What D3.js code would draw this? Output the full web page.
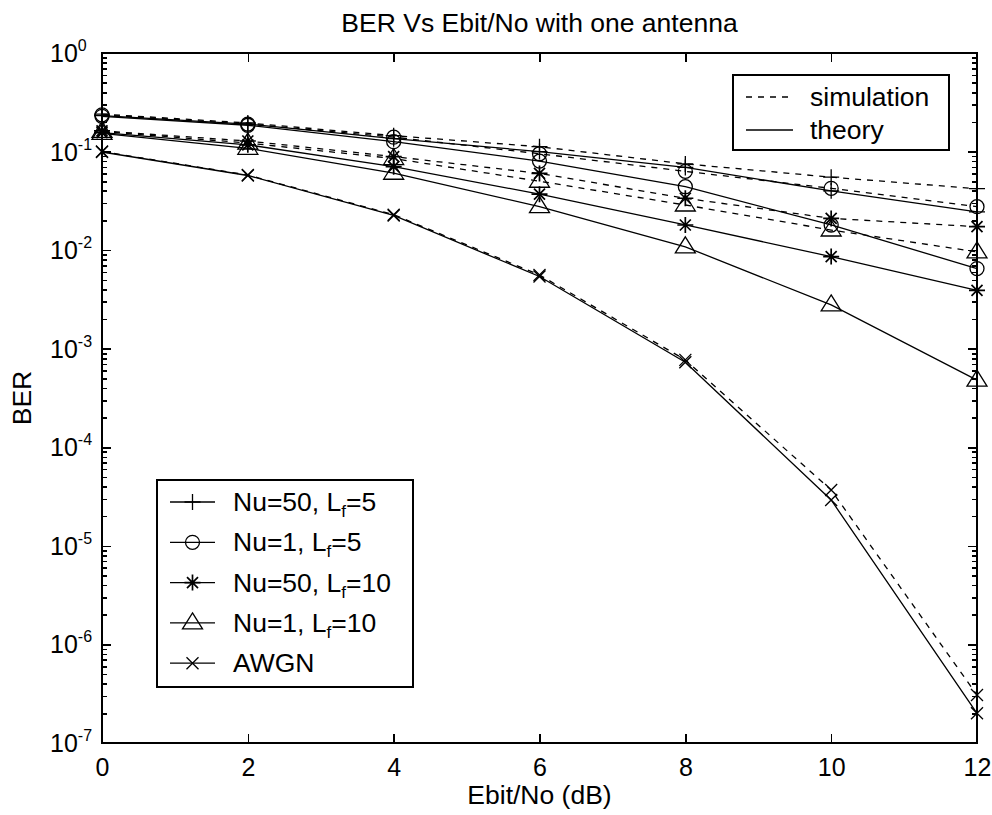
<!DOCTYPE html>
<html>
<head>
<meta charset="utf-8">
<script src="https://cdn.jsdelivr.net/npm/d3@7"></script>
<style>
  html, body { margin: 0; padding: 0; background: #fff; }
  svg { display: block; }
  text { font-family: "Liberation Sans", Arial, sans-serif; fill: #000; }
</style>
</head>
<body>
<svg id="chart" width="992" height="815"></svg>
<script>
// Eb/No points in dB
const ebno = [0, 2, 4, 6, 8, 10, 12];

// BER curves: simulation (dashed) and theory (solid)
const nu50Lf5Sim     = [0.240, 0.195, 0.145, 0.112, 0.075, 0.055, 0.042];
const nu50Lf5Theory  = [0.232, 0.190, 0.135, 0.100, 0.069, 0.040, 0.0245];
const nu1Lf5Sim      = [0.236, 0.190, 0.140, 0.095, 0.063, 0.0424, 0.0276];
const nu1Lf5Theory   = [0.228, 0.185, 0.126, 0.080, 0.044, 0.018, 0.0065];
const nu50Lf10Sim    = [0.162, 0.128, 0.089, 0.060, 0.0336, 0.021, 0.0173];
const nu50Lf10Theory = [0.156, 0.117, 0.0703, 0.037, 0.018, 0.0086, 0.0039];
const nu1Lf10Sim     = [0.160, 0.122, 0.085, 0.050, 0.0287, 0.016, 0.0096];
const nu1Lf10Theory  = [0.153, 0.108, 0.0603, 0.0276, 0.0108, 0.00278, 0.00048];
const awgnSim        = [0.100, 0.0578, 0.0229, 0.0056, 0.00077, 3.68e-5, 3.07e-7];
const awgnTheory     = [0.099, 0.0572, 0.0225, 0.0054, 0.00073, 2.92e-5, 2.0e-7];

// Axis ticks and labels
const xTicks = [0, 2, 4, 6, 8, 10, 12];
const yExponents = [0, -1, -2, -3, -4, -5, -6, -7];
const yTickLabels = ["0", "-1", "-2", "-3", "-4", "-5", "-6", "-7"];

// Legend text (main, subscript, tail)
const seriesNames = [
  ["Nu=50, L", "f", "=5"],
  ["Nu=1, L", "f", "=5"],
  ["Nu=50, L", "f", "=10"],
  ["Nu=1, L", "f", "=10"],
  ["AWGN", "", ""]
];
const styleNames = ["simulation", "theory"];

const titleText = "BER Vs Ebit/No with one antenna";
const xLabelText = "Ebit/No (dB)";
const yLabelText = "BER";

// ---------------------------------------------------------------
const svg = d3.select("#chart");
const FS = 25;      // tick labels
const FL = 26.5;    // title, axis labels, legends
const DASH = "6,6";
const plot = { left: 102, right: 977, top: 53, bottom: 743 };

const x = d3.scaleLinear().domain([0, 12]).range([plot.left, plot.right]);
const y = d3.scaleLog().domain([1e-7, 1]).range([plot.bottom, plot.top]);

const markerPaths = {
  plus: "M-8,0H8M0,-8V8",
  circle: "M7,0A7,7 0 1,1 -7,0A7,7 0 1,1 7,0Z",
  star: "M-8,0H8M0,-8V8M-5.5,-5.5L5.5,5.5M-5.5,5.5L5.5,-5.5",
  triangle: "M0,-10L10,6L-10,6Z",
  cross: "M-6,-6L6,6M-6,6L6,-6"
};

const series = [
  { values: nu50Lf5Sim, dashed: true, marker: "plus" },
  { values: nu50Lf5Theory, dashed: false, marker: "plus" },
  { values: nu1Lf5Sim, dashed: true, marker: "circle" },
  { values: nu1Lf5Theory, dashed: false, marker: "circle" },
  { values: nu50Lf10Sim, dashed: true, marker: "star" },
  { values: nu50Lf10Theory, dashed: false, marker: "star" },
  { values: nu1Lf10Sim, dashed: true, marker: "triangle" },
  { values: nu1Lf10Theory, dashed: false, marker: "triangle" },
  { values: awgnSim, dashed: true, marker: "cross" },
  { values: awgnTheory, dashed: false, marker: "cross" }
];

// Axes: major and minor ticks pointing inward on all four sides
const majorY = yExponents.map(e => Math.pow(10, e));
const minorY = [];
for (let e = -7; e < 0; e++) for (let m = 2; m <= 9; m++) minorY.push(m * Math.pow(10, e));

function styleAxis(g) {
  g.select(".domain").remove();
  g.selectAll(".tick line").attr("stroke", "#000").attr("stroke-width", 1.6).attr("shape-rendering", "crispEdges");
}

const gx = svg.append("g").attr("transform", `translate(0,${plot.bottom})`)
  .call(d3.axisBottom(x).tickValues(xTicks).tickSize(-9).tickSizeOuter(0).tickPadding(15).tickFormat(d3.format("d")));
styleAxis(gx);
gx.selectAll(".tick text").attr("font-size", FS).attr("font-family", "Liberation Sans, Arial, sans-serif").attr("fill", "#000");

svg.append("g").attr("transform", `translate(0,${plot.top})`)
  .call(d3.axisTop(x).tickValues(xTicks).tickSize(-9).tickSizeOuter(0).tickFormat(""))
  .call(styleAxis);

[[d3.axisLeft, plot.left], [d3.axisRight, plot.right]].forEach(([axisFn, px]) => {
  svg.append("g").attr("transform", `translate(${px},0)`)
    .call(axisFn(y).tickValues(majorY).tickSize(-9).tickSizeOuter(0).tickFormat(""))
    .call(styleAxis);
  svg.append("g").attr("transform", `translate(${px},0)`)
    .call(axisFn(y).tickValues(minorY).tickSize(-5).tickSizeOuter(0).tickFormat(""))
    .call(styleAxis);
});

// Y tick labels as 10^n
majorY.forEach((v, i) => {
  const t = svg.append("text")
    .attr("x", 50).attr("y", y(v) + 9)
    .attr("font-size", FS);
  t.append("tspan").text("10");
  t.append("tspan").attr("font-size", 16).attr("dy", -11).text(yTickLabels[i]);
});

// Plot frame
svg.append("rect")
  .attr("x", plot.left).attr("y", plot.top)
  .attr("width", plot.right - plot.left).attr("height", plot.bottom - plot.top)
  .attr("fill", "none").attr("stroke", "#000").attr("stroke-width", 2)
  .attr("shape-rendering", "crispEdges");

// Curves
const line = d3.line().x(d => x(d[0])).y(d => y(d[1]));
series.forEach(s => {
  const pts = ebno.map((e, i) => [e, s.values[i]]);
  svg.append("path")
    .attr("d", line(pts))
    .attr("fill", "none").attr("stroke", "#000").attr("stroke-width", 1.3)
    .attr("stroke-dasharray", s.dashed ? DASH : null);
  svg.append("g").selectAll("path").data(pts).join("path")
    .attr("transform", d => `translate(${x(d[0])},${y(d[1])})`)
    .attr("d", markerPaths[s.marker])
    .attr("fill", "none").attr("stroke", "#000")
    .attr("stroke-width", s.marker === "star" ? 1.7 : 1.3);
});

// Title and axis labels
svg.append("text").attr("x", (plot.left + plot.right) / 2).attr("y", 32)
  .attr("text-anchor", "middle").attr("font-size", FL).text(titleText);
svg.append("text").attr("x", (plot.left + plot.right) / 2).attr("y", 804)
  .attr("text-anchor", "middle").attr("font-size", FL).text(xLabelText);
svg.append("text").attr("transform", `translate(31,${(plot.top + plot.bottom) / 2}) rotate(-90)`)
  .attr("text-anchor", "middle").attr("font-size", FL).text(yLabelText);

// Legend: line styles (top right)
const lg1 = svg.append("g");
lg1.append("rect").attr("x", 733).attr("y", 75).attr("width", 216).attr("height", 75)
  .attr("fill", "#fff").attr("stroke", "#000").attr("stroke-width", 1.6).attr("shape-rendering", "crispEdges");
styleNames.forEach((name, i) => {
  const cy = 97 + i * 33;
  lg1.append("line").attr("x1", 746).attr("x2", i === 0 ? 788 : 793).attr("y1", cy).attr("y2", cy)
    .attr("stroke", "#000").attr("stroke-width", 1.3)
    .attr("stroke-dasharray", i === 0 ? DASH : null);
  lg1.append("text").attr("x", 810).attr("y", cy + 9).attr("font-size", FL).text(name);
});

// Legend: markers (bottom left)
const lg2 = svg.append("g");
lg2.append("rect").attr("x", 157).attr("y", 480).attr("width", 256).attr("height", 207)
  .attr("fill", "#fff").attr("stroke", "#000").attr("stroke-width", 1.6).attr("shape-rendering", "crispEdges");
const legendMarkers = ["plus", "circle", "star", "triangle", "cross"];
seriesNames.forEach((parts, i) => {
  const cy = 502 + i * 40.3;
  lg2.append("line").attr("x1", 170).attr("x2", 215).attr("y1", cy).attr("y2", cy)
    .attr("stroke", "#000").attr("stroke-width", 1.3);
  lg2.append("path").attr("transform", `translate(192.5,${cy})`).attr("d", markerPaths[legendMarkers[i]])
    .attr("fill", "none").attr("stroke", "#000")
    .attr("stroke-width", legendMarkers[i] === "star" ? 1.7 : 1.3);
  const t = lg2.append("text").attr("x", 233).attr("y", cy + 9).attr("font-size", FL);
  t.append("tspan").text(parts[0]);
  if (parts[1]) {
    t.append("tspan").attr("font-size", 17).attr("dy", 6).text(parts[1]);
    t.append("tspan").attr("dy", -6).text(parts[2]);
  }
});
</script>
</body>
</html>
